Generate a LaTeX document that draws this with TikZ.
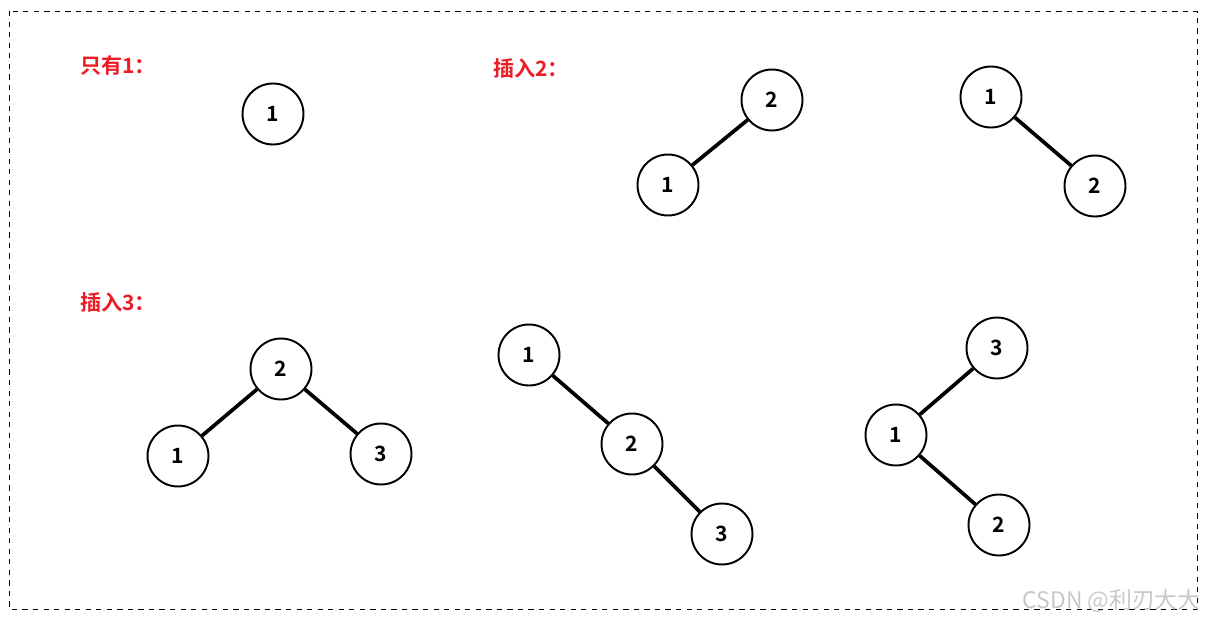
\documentclass[tikz,border=0pt]{standalone}
\usepackage{fontspec}
\usepackage{xcolor}
\usepackage{tikz}
\usetikzlibrary{positioning}
\newfontfamily\cjk{Noto Sans CJK SC}
\newfontfamily\cjkbold{Noto Sans CJK SC Bold}
\definecolor{TitleRed}{RGB}{237,28,36}
\definecolor{MarkGray}{RGB}{200,200,200}

\begin{document}
\begin{tikzpicture}[
  x=0.02cm, y=-0.02cm,
  key/.style={
    circle, draw=black, line width=1.1pt, fill=white,
    minimum size=1.22cm, inner sep=0pt, font=\cjkbold\fontsize{12}{14}\selectfont
  },
  link/.style={line width=2.1pt, draw=black},
  title/.style={anchor=west, text=TitleRed, inner sep=0pt, font=\cjkbold\fontsize{12}{14}\selectfont},
  frame/.style={draw=black, dashed, line width=0.5pt}
]
\useasboundingbox (0,0) rectangle (1207,622);
\draw[frame] (9,11) rectangle (1197,609);

% ================ 只有1 ================
\node[title] (t1) at (80,66) {只有1：};
\node[key] (a1) at (273,114) {1};

% ================ 插入2 ================
\node[title] (t2) at (493,68) {插入2：};
\node[key] (b2) at (772,100) {2};
\node[key] (b1) at (668,185) {1};
\draw[link] (b1) -- (b2);

\node[key] (c1) at (991,97) {1};
\node[key] (c2) at (1095,186) {2};
\draw[link] (c1) -- (c2);

% ================ 插入3 ================
\node[title] (t3) at (80,302) {插入3：};
\node[key] (d2) at (281,369) {2};
\node[key] (d1) at (178,456) {1};
\node[key] (d3) at (381,454) {3};
\draw[link] (d2) -- (d1);
\draw[link] (d2) -- (d3);

\node[key] (e1) at (529,355) {1};
\node[key] (e2) at (632,444) {2};
\node[key] (e3) at (722,534) {3};
\draw[link] (e1) -- (e2);
\draw[link] (e2) -- (e3);

\node[key] (f3) at (997,348) {3};
\node[key] (f1) at (896,435) {1};
\node[key] (f2) at (999,525) {2};
\draw[link] (f1) -- (f3);
\draw[link] (f1) -- (f2);

% ================ 水印 ================
\node[anchor=east, text=MarkGray, inner sep=0pt, font=\cjk\fontsize{13}{15}\selectfont]
  (mark) at (1201,601) {CSDN @利刃大大};
\end{tikzpicture}
\end{document}
